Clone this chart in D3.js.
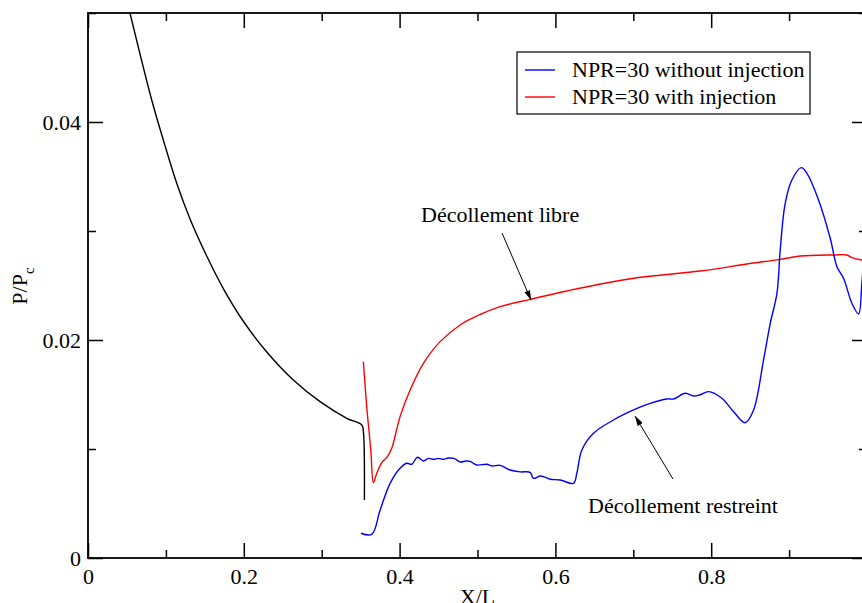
<!DOCTYPE html>
<html><head><meta charset="utf-8">
<script src="https://cdn.jsdelivr.net/npm/d3@7/dist/d3.min.js"></script>
<style>
body{margin:0;background:#fff;}
svg{display:block;}
svg text{font-family:'Liberation Serif','Nimbus Roman','Times New Roman',Times,'DejaVu Serif',serif;}
</style></head>
<body><svg id="c" width="862" height="603"></svg>
<script>
// ---- data ----
const xMajorTicks = [0, 0.2, 0.4, 0.6, 0.8];
const xMinorTicks = [0.1, 0.3, 0.5, 0.7, 0.9];
const yMajorTicks = [0, 0.02, 0.04];
const yMinorTicks = [0.01, 0.03, 0.05];
const xTickLabels = ["0", "0.2", "0.4", "0.6", "0.8"];
const yTickLabels = ["0", "0.02", "0.04"];

const blackX = [0.0539,0.0818,0.0967,0.1139,0.1310,0.1524,0.1737,0.1994,0.2295,0.2636,0.2979,0.3322,0.3515,0.3535,0.3548];
const blackY = [0.0500,0.04202,0.03835,0.03438,0.03110,0.02770,0.02472,0.02172,0.01890,0.01633,0.01434,0.01282,0.01220,0.01159,0.00532];

const redX = [0.3535,0.3578,0.3630,0.3664,0.3707,0.3771,0.3844,0.3899,0.4006,0.4135,0.4306,0.4520,0.4777,0.5034,0.5290,0.5676,0.6147,0.7003,0.7859,0.8458,0.8886,0.9143,0.9570,0.9742,0.9806,0.9934,1.0];
const redY = [0.01801,0.01388,0.00991,0.00691,0.00777,0.00875,0.00930,0.01006,0.01297,0.01541,0.01786,0.01985,0.02138,0.02234,0.02306,0.02373,0.02450,0.02566,0.02633,0.02697,0.02740,0.02770,0.02780,0.02780,0.02755,0.02734,0.02730];

const blueX = [0.3505,0.3643,0.3750,0.3878,0.4006,0.4092,0.4156,0.4229,0.4306,0.4370,0.4434,0.4498,0.4563,0.4627,0.4700,0.4777,0.4850,0.4905,0.4991,0.5120,0.5184,0.5290,0.5419,0.5547,0.5675,0.5718,0.5804,0.5870,0.5933,0.6061,0.6232,0.6275,0.6340,0.6489,0.6746,0.7003,0.7217,0.7431,0.7517,0.7666,0.7773,0.7859,0.7966,0.8137,0.8287,0.8437,0.8544,0.8672,0.8758,0.8844,0.8886,0.8950,0.9036,0.9156,0.9229,0.9378,0.9528,0.9614,0.9699,0.9806,0.9892,0.9934,0.9965,1.0];
const blueY = [0.00227,0.00217,0.00440,0.00685,0.00823,0.00869,0.00860,0.00924,0.00890,0.00914,0.00905,0.00914,0.00905,0.00917,0.00914,0.00881,0.00890,0.00887,0.00853,0.00860,0.00844,0.00850,0.00807,0.00790,0.00786,0.00731,0.00752,0.00740,0.00722,0.00716,0.00685,0.00777,0.00991,0.01144,0.01266,0.01358,0.01419,0.01459,0.01459,0.01511,0.01486,0.01498,0.01526,0.01465,0.01342,0.01241,0.01358,0.01817,0.02153,0.02428,0.02826,0.03254,0.03468,0.03581,0.03529,0.03284,0.02933,0.02673,0.02566,0.02337,0.02239,0.02520,0.02800,0.03100];

const legendLabels = ["NPR=30 without injection", "NPR=30 with injection"];
const legendColors = ["#0000ff", "#ff0000"];

// ---- layout ----
const svg = d3.select("#c");
const L = 88, R = 867, T = 13, B = 558;
const x = d3.scaleLinear().domain([0, 1]).range([L, R]);
const y = d3.scaleLinear().domain([0, 0.05]).range([B, T]);
const FS = 22;

svg.append("defs").append("clipPath").attr("id","clip")
  .append("rect").attr("x",L).attr("y",T).attr("width",R-L).attr("height",B-T);
const m = svg.select("defs").append("marker").attr("id","arr")
  .attr("viewBox","0 0 10 6").attr("refX",10).attr("refY",3)
  .attr("markerWidth",10).attr("markerHeight",6).attr("markerUnits","userSpaceOnUse").attr("orient","auto");
m.append("path").attr("d","M0,0 L10,3 L0,6 Z").attr("fill","#000");

const line = d3.line().x(d=>x(d[0])).y(d=>y(d[1])).curve(d3.curveCatmullRom.alpha(0.5));
const g = svg.append("g").attr("clip-path","url(#clip)");
function draw(xs, ys, col){
  g.append("path").datum(xs.map((v,i)=>[v, ys[i]])).attr("d", line)
   .attr("fill","none").attr("stroke",col).attr("stroke-width",1.4).attr("stroke-linejoin","round");
}
draw(blackX, blackY, "#000");
draw(redX, redY, "#ff0000");
draw(blueX, blueY, "#0000ff");

// ---- axes ----
function styleAxis(sel){
  sel.select(".domain").remove();
  sel.selectAll(".tick line").attr("stroke","#000").attr("stroke-width",1.5);
  sel.selectAll("text").attr("font-size",FS).attr("font-family",null).attr("fill","#000");
}
svg.append("g").attr("transform",`translate(0,${B})`)
  .call(d3.axisBottom(x).tickValues(xMajorTicks).tickSize(-15).tickPadding(10).tickFormat((d,i)=>xTickLabels[i]))
  .call(styleAxis);
svg.append("g").attr("transform",`translate(0,${B})`)
  .call(d3.axisBottom(x).tickValues(xMinorTicks).tickSize(-8).tickFormat(""))
  .call(styleAxis);
svg.append("g").attr("transform",`translate(0,${T})`)
  .call(d3.axisTop(x).tickValues(xMajorTicks).tickSize(-15).tickFormat(""))
  .call(styleAxis);
svg.append("g").attr("transform",`translate(0,${T})`)
  .call(d3.axisTop(x).tickValues(xMinorTicks).tickSize(-8).tickFormat(""))
  .call(styleAxis);
svg.append("g").attr("transform",`translate(${L},0)`)
  .call(d3.axisLeft(y).tickValues(yMajorTicks).tickSize(-15).tickPadding(7).tickFormat((d,i)=>yTickLabels[i]))
  .call(styleAxis);
svg.append("g").attr("transform",`translate(${L},0)`)
  .call(d3.axisLeft(y).tickValues(yMinorTicks).tickSize(-8).tickFormat(""))
  .call(styleAxis);
svg.append("g").attr("transform",`translate(${R},0)`)
  .call(d3.axisRight(y).tickValues(yMajorTicks).tickSize(-15).tickFormat(""))
  .call(styleAxis);
svg.append("g").attr("transform",`translate(${R},0)`)
  .call(d3.axisRight(y).tickValues(yMinorTicks).tickSize(-8).tickFormat(""))
  .call(styleAxis);
svg.append("rect").attr("x",L).attr("y",T).attr("width",R-L).attr("height",B-T)
  .attr("fill","none").attr("stroke","#000").attr("stroke-width",1.8);

// ---- axis titles ----
svg.append("text").attr("x",(L+R)/2).attr("y",604).attr("text-anchor","middle")
  .attr("font-size",FS).text("X/L");
const yl = svg.append("text").attr("transform","translate(27,286) rotate(-90)")
  .attr("text-anchor","middle").attr("font-size",FS);
yl.append("tspan").text("P/P");
yl.append("tspan").attr("dy",7).attr("font-size",15).text("c");

// ---- legend ----
svg.append("rect").attr("x",517).attr("y",52).attr("width",293).attr("height",62)
  .attr("fill","#fff").attr("stroke","#000").attr("stroke-width",1.2);
legendLabels.forEach((t,i)=>{
  const yy = 70 + i*27;
  svg.append("line").attr("x1",525).attr("x2",555).attr("y1",yy).attr("y2",yy)
    .attr("stroke",legendColors[i]).attr("stroke-width",1.4);
  svg.append("text").attr("x",572).attr("y",yy+7).attr("font-size",FS).text(t);
});

// ---- annotations ----
svg.append("text").attr("x",421).attr("y",222).attr("font-size",FS).text("Décollement libre");
svg.append("line").attr("x1",502).attr("y1",233).attr("x2",x(0.5676)+1).attr("y2",y(0.02373)+1)
  .attr("stroke","#000").attr("stroke-width",1).attr("marker-end","url(#arr)");
svg.append("text").attr("x",588).attr("y",513).attr("font-size",FS).text("Décollement restreint");
svg.append("line").attr("x1",673).attr("y1",479).attr("x2",635).attr("y2",416)
  .attr("stroke","#000").attr("stroke-width",1).attr("marker-end","url(#arr)");
</script></body></html>
